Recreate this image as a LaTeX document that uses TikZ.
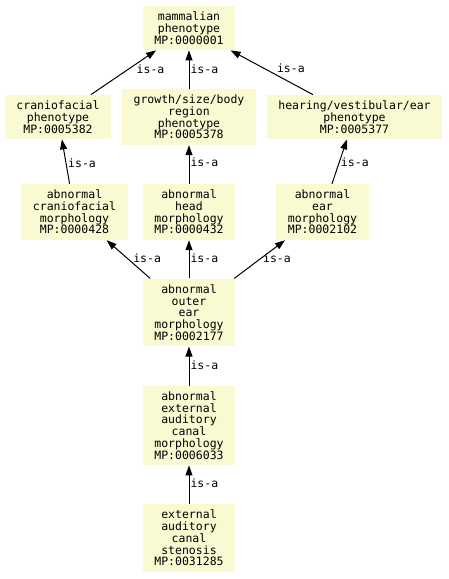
\documentclass[tikz,border=0pt]{standalone}
\usepackage{fontspec}
\setmonofont{DejaVu Sans Mono}
\usetikzlibrary{arrows.meta}

\definecolor{termfill}{HTML}{FAFAD2}
\tikzset{term/.style={fill=termfill,align=center,inner xsep=11.5pt,inner ysep=6pt,
    font=\ttfamily\fontsize{11.5}{11.7}\selectfont},
  isaedge/.style={-{Triangle[length=10pt,width=7pt]},line width=1pt},
  isalabel/.style={anchor=west,inner sep=0pt,font=\ttfamily\fontsize{11.5}{11.7}\selectfont}}

\begin{document}
\begin{tikzpicture}[x=1pt,y=-1pt]
        \useasboundingbox (0,0) rectangle (448,579);
        % draw the terms
        \node[term] (mp) at (189,28) {mammalian\\phenotype\\MP:0000001};
        \node[term] (cp) at (58,117) {craniofacial\\phenotype\\MP:0005382};
        \node[term] (gp) at (189,117) {growth/size/body\\region\\phenotype\\MP:0005378};
        \node[term] (hp) at (354.5,117) {hearing/vestibular/ear\\phenotype\\MP:0005377};
        \node[term] (acm) at (74.5,212) {abnormal\\craniofacial\\morphology\\MP:0000428};
        \node[term] (ahm) at (189,212) {abnormal\\head\\morphology\\MP:0000432};
        \node[term] (aem) at (322.5,212) {abnormal\\ear\\morphology\\MP:0002102};
        \node[term] (oem) at (189,312.5) {abnormal\\outer\\ear\\morphology\\MP:0002177};
        \node[term] (ecm) at (189,425.5) {abnormal\\external\\auditory\\canal\\morphology\\MP:0006033};
        \node[term] (sten) at (189,538) {external\\auditory\\canal\\stenosis\\MP:0031285};
        % draw the is-a edges (child to parent)
        \draw[isaedge] (cp) -- node[isalabel,pos=0.58,xshift=7.5pt] {is-a} (mp);
        \draw[isaedge] (gp) -- node[isalabel,pos=0.5,xshift=1pt] {is-a} (mp);
        \draw[isaedge] (hp) -- node[isalabel,pos=0.6,xshift=13pt] {is-a} (mp);
        \draw[isaedge] (acm) -- node[isalabel,pos=0.47,xshift=1.7pt] {is-a} (cp);
        \draw[isaedge] (ahm) -- node[isalabel,pos=0.56,xshift=1pt] {is-a} (gp);
        \draw[isaedge] (aem) -- node[isalabel,pos=0.48,xshift=1.3pt] {is-a} (hp);
        \draw[isaedge] (oem) -- node[isalabel,pos=0.53,xshift=5.7pt] {is-a} (acm);
        \draw[isaedge] (oem) -- node[isalabel,pos=0.53,xshift=1pt] {is-a} (ahm);
        \draw[isaedge] (oem) -- node[isalabel,pos=0.53,xshift=1.5pt] {is-a} (aem);
        \draw[isaedge] (ecm) -- node[isalabel,pos=0.51,xshift=1pt] {is-a} (oem);
        \draw[isaedge] (sten) -- node[isalabel,pos=0.55,xshift=1pt] {is-a} (ecm);
    \end{tikzpicture}
\end{document}
